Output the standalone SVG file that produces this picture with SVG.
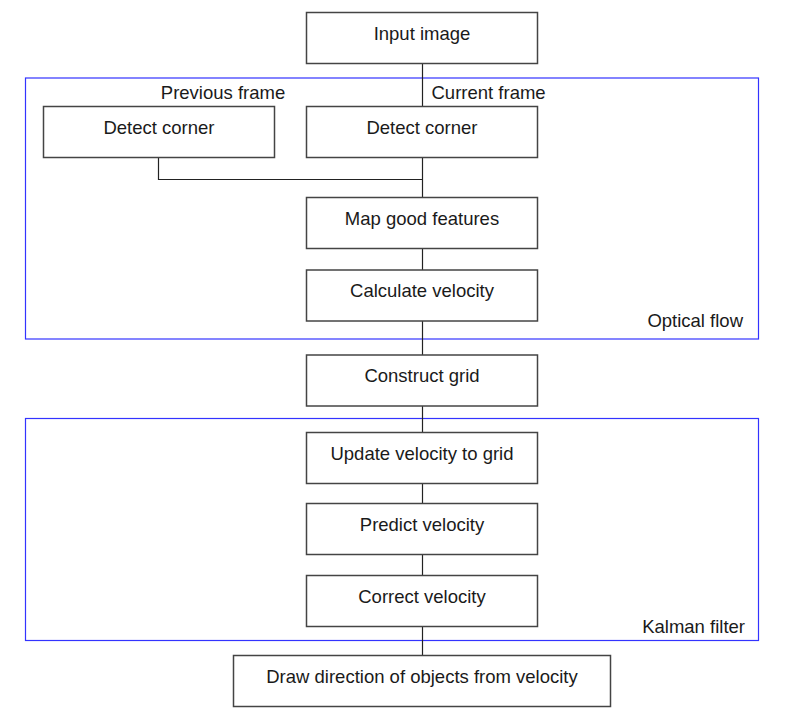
<svg xmlns="http://www.w3.org/2000/svg" width="785" height="721" viewBox="0 0 785 721">
<style>
.box{fill:#fff;stroke:#444;stroke-width:1.5}
.grp{fill:none;stroke:#3333ff;stroke-width:1.2}
.t{font-family:"Liberation Sans",Arial,sans-serif;font-size:18.5px;fill:#1a1a1a}
.c{text-anchor:middle}
.e{text-anchor:end}
.ln{fill:none;stroke:#222;stroke-width:1.2}
</style>
<rect width="785" height="721" fill="#fff"/>
<g id="optical-flow">
<rect class="grp" x="25.5" y="78" width="733" height="261"/>
<text class="t e" x="743" y="327">Optical flow</text>
</g>
<g id="kalman-filter">
<rect class="grp" x="25.5" y="418.5" width="733" height="222"/>
<text class="t e" x="745" y="633">Kalman filter</text>
</g>
<g id="labels">
<text class="t c" x="223" y="99">Previous frame</text>
<text class="t" x="431.5" y="99">Current frame</text>
</g>
<g id="connectors">
<path class="ln" d="M422.5 63.5V106.5"/>
<path class="ln" d="M158.5 157.5V179.5H422.5"/>
<path class="ln" d="M422.5 157.5V197.5"/>
<path class="ln" d="M422.5 248.5V270"/>
<path class="ln" d="M422.5 321V355"/>
<path class="ln" d="M422.5 406V432.5"/>
<path class="ln" d="M422.5 483.5V503.5"/>
<path class="ln" d="M422.5 554.5V575.5"/>
<path class="ln" d="M422.5 626.5V655.5"/>
</g>
<g id="input-image">
<rect class="box" x="306.5" y="12.5" width="231" height="51"/>
<text class="t c" x="422" y="39.5">Input image</text>
</g>
<g id="detect-corner-prev">
<rect class="box" x="43.5" y="106.5" width="231" height="51"/>
<text class="t c" x="159" y="133.5">Detect corner</text>
</g>
<g id="detect-corner-cur">
<rect class="box" x="306.5" y="106.5" width="231" height="51"/>
<text class="t c" x="422" y="133.5">Detect corner</text>
</g>
<g id="map-good-features">
<rect class="box" x="306.5" y="197.5" width="231" height="51"/>
<text class="t c" x="422" y="225">Map good features</text>
</g>
<g id="calculate-velocity">
<rect class="box" x="306.5" y="270" width="231" height="51"/>
<text class="t c" x="422" y="297">Calculate velocity</text>
</g>
<g id="construct-grid">
<rect class="box" x="306.5" y="355" width="231" height="51"/>
<text class="t c" x="422" y="382">Construct grid</text>
</g>
<g id="update-velocity">
<rect class="box" x="306.5" y="432.5" width="231" height="51"/>
<text class="t c" x="422" y="460">Update velocity to grid</text>
</g>
<g id="predict-velocity">
<rect class="box" x="306.5" y="503.5" width="231" height="51"/>
<text class="t c" x="422" y="531">Predict velocity</text>
</g>
<g id="correct-velocity">
<rect class="box" x="306.5" y="575.5" width="231" height="51"/>
<text class="t c" x="422" y="602.5">Correct velocity</text>
</g>
<g id="draw-direction">
<rect class="box" x="233.5" y="655.5" width="377" height="51"/>
<text class="t c" x="422" y="682.5">Draw direction of objects from velocity</text>
</g>
</svg>
